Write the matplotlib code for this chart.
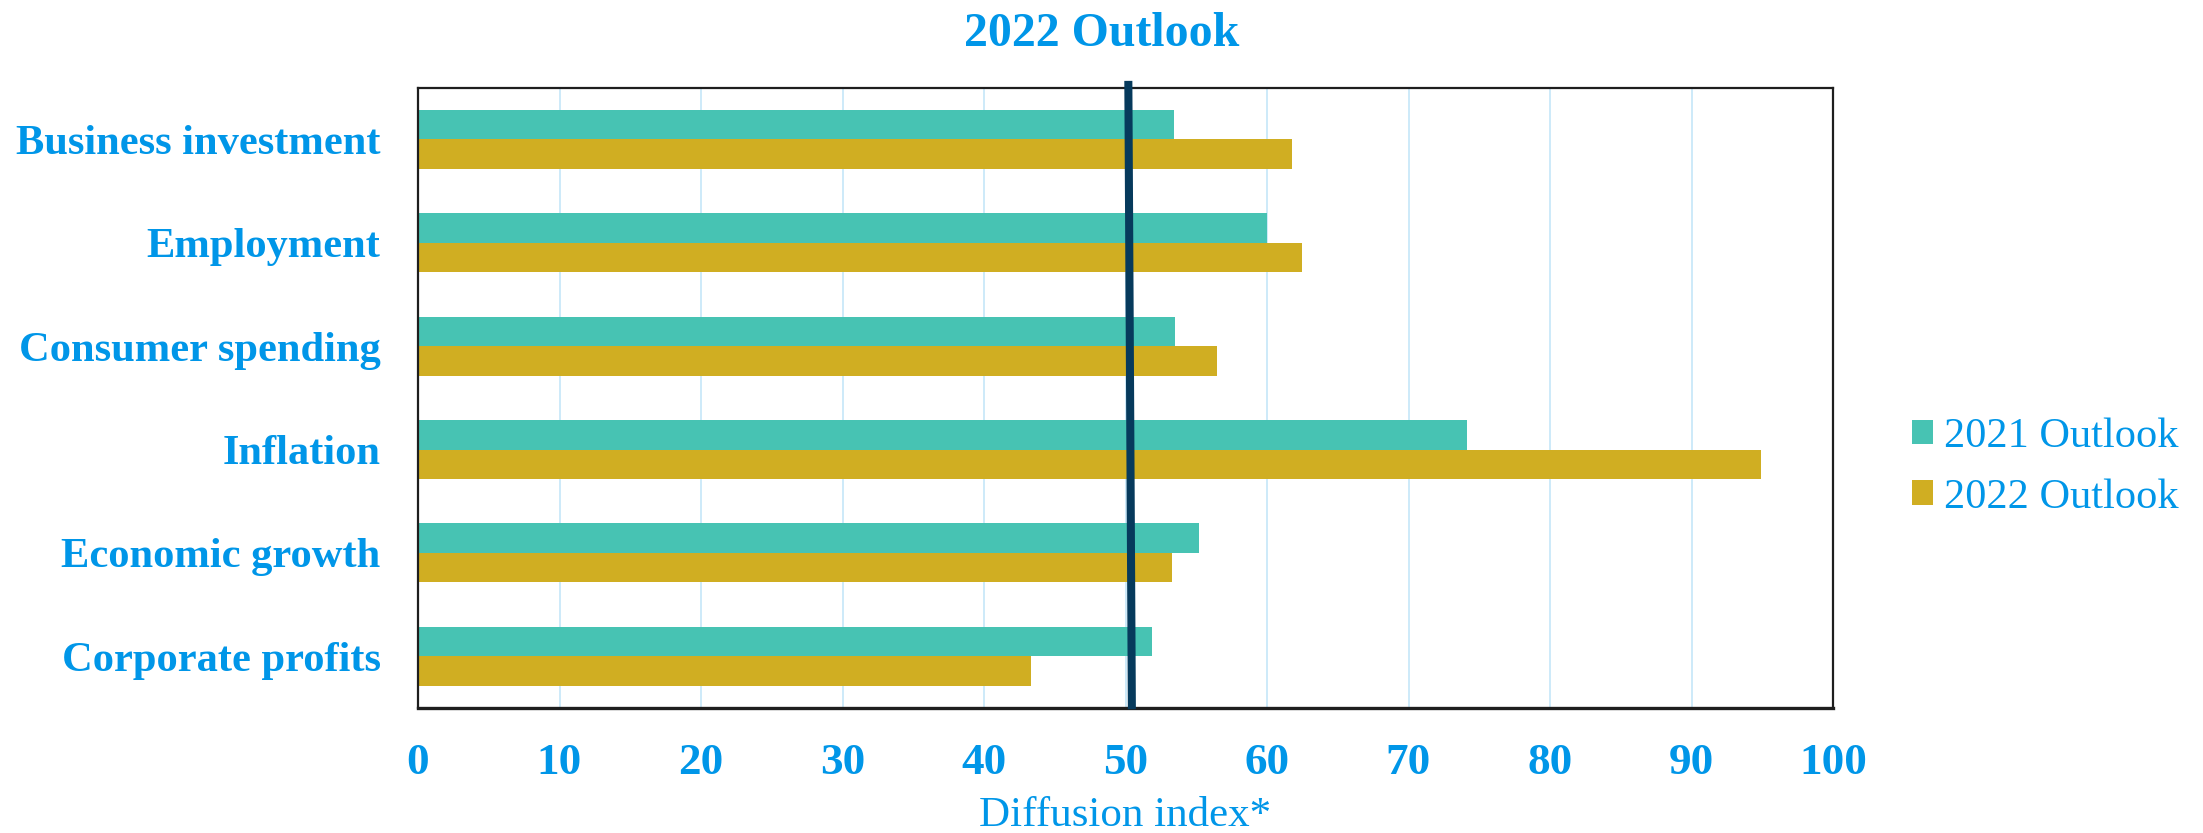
import numpy as np
import matplotlib
matplotlib.use("Agg")
import matplotlib.pyplot as plt

categories = ['Business investment', 'Employment', 'Consumer spending',
              'Inflation', 'Economic growth', 'Corporate profits']
outlook_2021 = [53.4, 60.0, 53.5, 74.1, 55.2, 51.9]
outlook_2022 = [61.8, 62.5, 56.5, 94.9, 53.3, 43.3]
series_names = ['2021 Outlook', '2022 Outlook']
xticks = [0, 10, 20, 30, 40, 50, 60, 70, 80, 90, 100]

blue = '#0096E8'
teal = '#47C3B3'
gold = '#D0AE22'
navy = '#063A5C'
serif = 'Liberation Serif'

fig = plt.figure(figsize=(22.03, 8.33), dpi=100)
ax = fig.add_axes([418 / 2203, 1 - 708 / 833, (1833 - 418) / 2203, (708 - 87.7) / 833])

y = np.arange(len(categories))
h = 0.285
ax.barh(y - h / 2, outlook_2021, height=h, color=teal, label=series_names[0], zorder=2)
ax.barh(y + h / 2, outlook_2022, height=h, color=gold, label=series_names[1], zorder=2)

ax.set_xlim(0, 100)
ax.set_ylim(len(categories) - 0.5, -0.5)
ax.set_xticks(xticks)
ax.set_xticklabels([str(t) for t in xticks], family=serif, fontweight='bold',
                   fontsize=32.5, color=blue)
ax.set_yticks(y)
ax.set_yticklabels(categories, family=serif, fontweight='bold', fontsize=30.6, color=blue)
ax.tick_params(axis='x', length=0, pad=25)
ax.tick_params(axis='y', length=0, pad=27)
ax.xaxis.grid(True, color='#C5E6F8', linewidth=1.2, zorder=0)
ax.set_axisbelow(True)
for s in ax.spines.values():
    s.set_color('#1E1E1E')
    s.set_linewidth(1.6)
ax.spines['bottom'].set_linewidth(2.4)

# the 50 mark line, drawn slightly slanted like in the source
trans = matplotlib.transforms.blended_transform_factory(ax.transData, ax.transAxes)
ax.plot([50.2, 50.45], [1.011, -0.002], color=navy, linewidth=5.8,
        transform=trans, clip_on=False, zorder=4, solid_capstyle='butt')

fig.text(1125.5 / 2203, 1 - 816 / 833, 'Diffusion index*', family=serif, fontsize=31,
         color=blue, ha='center', va='center')

fig.text(0.5, 1 - 34 / 833, '2022 Outlook', family=serif, fontweight='bold',
         fontsize=34.5, color=blue, ha='center', va='center')

leg = ax.legend(loc='center left', bbox_to_anchor=(1912 / 2203, 1 - 467 / 833),
                bbox_transform=fig.transFigure, frameon=False, borderpad=0,
                borderaxespad=0, handlelength=0.5, handleheight=0.5,
                handletextpad=0.25, labelspacing=0.52,
                prop={'family': serif, 'size': 30.5})
for t in leg.get_texts():
    t.set_color(blue)

fig.savefig('out.png', dpi=100)
